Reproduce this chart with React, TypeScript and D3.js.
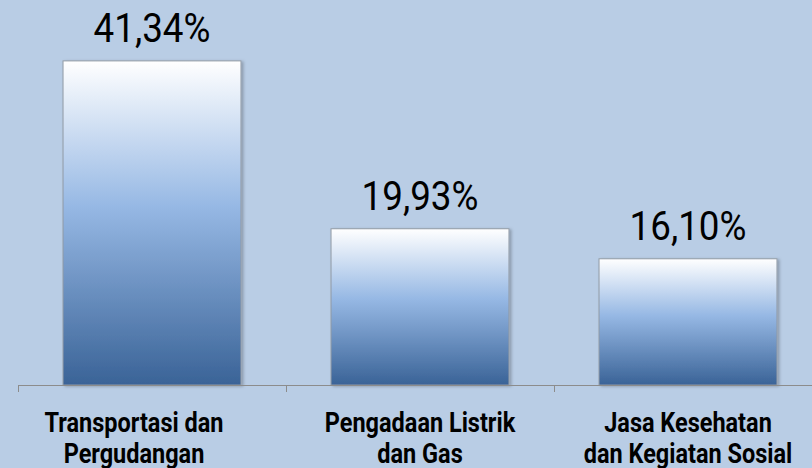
import * as d3 from 'd3';

const categories = [
  ['Transportasi dan', 'Pergudangan'],
  ['Pengadaan Listrik', 'dan Gas'],
  ['Jasa Kesehatan', 'dan Kegiatan Sosial'],
];
const values = [41.34, 19.93, 16.1];
const valueLabels = ['41,34%', '19,93%', '16,10%'];

const W = 812;
const H = 468;
const BG = '#B9CDE5';
const AXIS_Y = 385;
const FONT = '"Roboto", "DejaVu Sans", sans-serif';
// the first category label sits a little left of its bar in the source
const FIRST_LABEL_SHIFT = -18;

export default function App() {
  const x = d3.scaleBand<number>()
    .domain(d3.range(values.length))
    .range([18, 18 + 268 * values.length])
    .paddingInner(0.336)
    .paddingOuter(0.168);
  const y = d3.scaleLinear().domain([0, 50]).range([AXIS_Y, AXIS_Y - 50 * 7.84]);
  const step = x.step();
  const ticks = d3.range(values.length + 1).map((i) => 18 + i * step);
  const cx = (i: number) => (x(i) ?? 0) + x.bandwidth() / 2;

  return (
    <div style={{ position: 'fixed', left: 0, top: 0 }}>
      <svg width={W} height={H} style={{ display: 'block' }}>
        <defs>
          <linearGradient id="barGrad" x1="0" y1="0" x2="0" y2="1">
            <stop offset="0%" stopColor="#FFFFFF" />
            <stop offset="45%" stopColor="#96B8E4" />
            <stop offset="100%" stopColor="#3A6397" />
          </linearGradient>
          <filter id="shadow" x="-10%" y="-10%" width="130%" height="130%">
            <feDropShadow dx="2" dy="1" stdDeviation="1.5" floodColor="#000" floodOpacity="0.25" />
          </filter>
        </defs>
        <rect width={W} height={H} fill={BG} />

        {values.map((v, i) => (
          <rect
            key={i}
            x={x(i)}
            y={y(v)}
            width={x.bandwidth()}
            height={AXIS_Y - y(v)}
            fill="url(#barGrad)"
            stroke="#929BA6"
            strokeWidth={1}
            filter="url(#shadow)"
          />
        ))}

        <line x1={18} x2={W} y1={AXIS_Y + 0.5} y2={AXIS_Y + 0.5} stroke="#8C8C8C" strokeWidth={1} />
        {ticks.map((t, i) => (
          <line key={i} x1={t + 0.5} x2={t + 0.5} y1={AXIS_Y} y2={AXIS_Y + 7} stroke="#8C8C8C" strokeWidth={1} />
        ))}

        {values.map((v, i) => (
          <text
            key={i}
            transform={`translate(${cx(i)},${y(v) - 19}) scale(0.92,1)`}
            textAnchor="middle"
            fontFamily={FONT}
            fontSize={40}
            fill="#000"
          >
            {valueLabels[i]}
          </text>
        ))}

        {categories.map((lines, i) => (
          <text
            key={i}
            transform={`translate(${cx(i) + (i === 0 ? FIRST_LABEL_SHIFT : 0)},0) scale(0.87,1)`}
            textAnchor="middle"
            fontFamily={FONT}
            fontWeight="bold"
            fontSize={27}
            fill="#000"
          >
            {lines.map((l, j) => (
              <tspan key={j} x={0} y={432 + j * 31}>
                {l}
              </tspan>
            ))}
          </text>
        ))}
      </svg>
    </div>
  );
}
